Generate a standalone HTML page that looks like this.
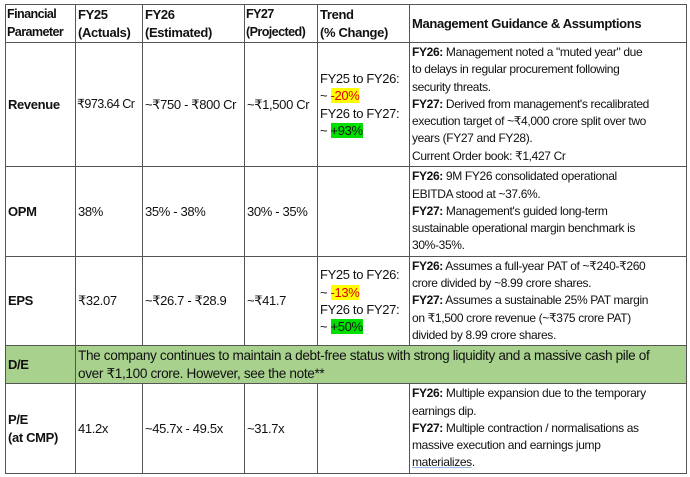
<!DOCTYPE html>
<html><head><meta charset="utf-8"><style>
body{margin:0;background:#fff;width:690px;height:477px;overflow:hidden;position:relative;font-family:"Liberation Sans",sans-serif;font-size:12px;letter-spacing:-0.35px;color:#111}
.c{position:absolute;box-sizing:border-box;border:1px solid #555;display:flex;flex-direction:column;justify-content:center;padding:0 2px;line-height:17.3px;white-space:nowrap;margin:-1px 0 0 -1px}
.h{font-size:13px}
.t{font-size:12.6px;letter-spacing:-0.6px;padding:0 1px}
b{font-weight:bold}
.y{background:#ffff00;color:#e00000}
.g{background:#00e000}
.gr{background:#a9d18e}
</style></head><body>
<!-- header -->
<div class="c t" style="left:6px;top:5px;width:71px;height:39px"><b>Financial<br>Parameter</b></div>
<div class="c h" style="left:76px;top:5px;width:68px;height:39px"><b>FY25<br>(Actuals)</b></div>
<div class="c h" style="left:143px;top:5px;width:103px;height:39px"><b>FY26<br>(Estimated)</b></div>
<div class="c t" style="left:245px;top:5px;width:74px;height:39px"><b>FY27<br>(Projected)</b></div>
<div class="c h" style="left:318px;top:5px;width:93px;height:39px"><b>Trend<br>(% Change)</b></div>
<div class="c h" style="left:410px;top:5px;width:278px;height:39px"><b>Management Guidance &amp; Assumptions</b></div>
<!-- revenue -->
<div class="c h" style="left:6px;top:43px;width:71px;height:125px"><b>Revenue</b></div>
<div class="c t" style="left:76px;top:43px;width:68px;height:125px">₹973.64 Cr</div>
<div class="c h" style="left:143px;top:43px;width:103px;height:125px">~₹750 - ₹800 Cr</div>
<div class="c h" style="left:245px;top:43px;width:74px;height:125px">~₹1,500 Cr</div>
<div class="c h" style="left:318px;top:43px;width:93px;height:125px"><div>FY25 to FY26:<br>~ <span class="y">-20%</span><br>FY26 to FY27:<br>~ <span class="g">+93%</span></div></div>
<div class="c" style="left:410px;top:43px;width:278px;height:125px"><div><b>FY26:</b> Management noted a "muted year" due<br>to delays in regular procurement following<br>security threats.<br><b>FY27:</b> Derived from management's recalibrated<br>execution target of ~₹4,000 crore split over two<br>years (FY27 and FY28).<br>Current Order book: ₹1,427 Cr</div></div>
<!-- OPM -->
<div class="c h" style="left:6px;top:167px;width:71px;height:91px"><b>OPM</b></div>
<div class="c h" style="left:76px;top:167px;width:68px;height:91px">38%</div>
<div class="c h" style="left:143px;top:167px;width:103px;height:91px">35% - 38%</div>
<div class="c h" style="left:245px;top:167px;width:74px;height:91px">30% - 35%</div>
<div class="c" style="left:318px;top:167px;width:93px;height:91px"></div>
<div class="c" style="left:410px;top:167px;width:278px;height:91px"><div><b>FY26:</b> 9M FY26 consolidated operational<br>EBITDA stood at ~37.6%.<br><b>FY27:</b> Management's guided long-term<br>sustainable operational margin benchmark is<br>30%-35%.</div></div>
<!-- EPS -->
<div class="c h" style="left:6px;top:257px;width:71px;height:90px"><b>EPS</b></div>
<div class="c h" style="left:76px;top:257px;width:68px;height:90px">₹32.07</div>
<div class="c h" style="left:143px;top:257px;width:103px;height:90px">~₹26.7 - ₹28.9</div>
<div class="c h" style="left:245px;top:257px;width:74px;height:90px">~₹41.7</div>
<div class="c h" style="left:318px;top:257px;width:93px;height:90px"><div>FY25 to FY26:<br>~ <span class="y">-13%</span><br>FY26 to FY27:<br>~ <span class="g">+50%</span></div></div>
<div class="c" style="left:410px;top:257px;width:278px;height:90px"><div><b>FY26:</b> Assumes a full-year PAT of ~₹240-₹260<br>crore divided by ~8.99 crore shares.<br><b>FY27:</b> Assumes a sustainable 25% PAT margin<br>on ₹1,500 crore revenue (~₹375 crore PAT)<br>divided by 8.99 crore shares.</div></div>
<!-- D/E -->
<div class="c gr h" style="left:6px;top:346px;width:71px;height:39px"><b>D/E</b></div>
<div class="c gr" style="left:76px;top:346px;width:612px;height:39px"><div style="font-size:13.6px">The company continues to maintain a debt-free status with strong liquidity and a massive cash pile of<br>over ₹1,100 crore. However, see the note**</div></div>
<!-- P/E -->
<div class="c h" style="left:6px;top:384px;width:71px;height:91px"><b>P/E<br>(at CMP)</b></div>
<div class="c h" style="left:76px;top:384px;width:68px;height:91px">41.2x</div>
<div class="c h" style="left:143px;top:384px;width:103px;height:91px">~45.7x - 49.5x</div>
<div class="c h" style="left:245px;top:384px;width:74px;height:91px">~31.7x</div>
<div class="c" style="left:318px;top:384px;width:93px;height:91px"></div>
<div class="c" style="left:410px;top:384px;width:278px;height:91px"><div><b>FY26:</b> Multiple expansion due to the temporary<br>earnings dip.<br><b>FY27:</b> Multiple contraction / normalisations as<br>massive execution and earnings jump<br><span style="text-decoration:underline;text-decoration-color:#9bb7e8">materializes</span>.</div></div>
</body></html>
